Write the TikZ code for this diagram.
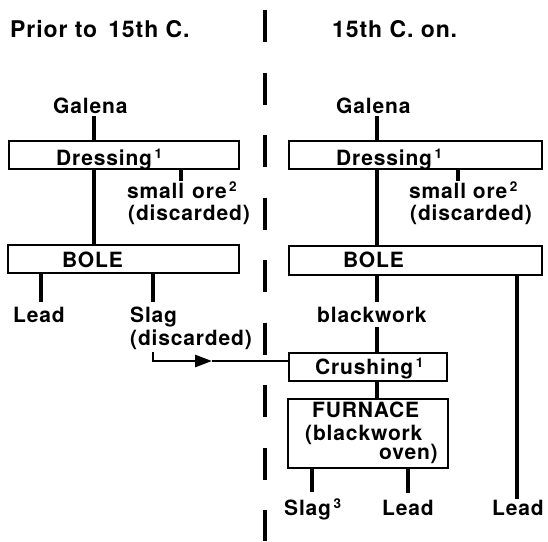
\documentclass[tikz,border=0pt]{standalone}
\usepackage{fontspec}
\newfontfamily\hv[LetterSpace=4]{TeX Gyre Heros}
\usetikzlibrary{arrows.meta}
\newcommand{\supnum}[1]{\hspace{2.5pt}\raisebox{6.5pt}{\fontsize{13.5}{13.5}\selectfont #1}}
\begin{document}
\begin{tikzpicture}[x=1pt,y=-1pt,
  lbl/.style={anchor=base west,inner sep=0pt,font=\hv\bfseries\fontsize{21}{23}\selectfont},
  head/.style={anchor=base west,inner sep=0pt,font=\hv\bfseries\fontsize{23}{25}\selectfont},
  boxshape/.style={draw,line width=1.3pt,inner sep=0pt},
  conn/.style={line width=4pt},
  arrowline/.style={line width=2.8pt,-{Triangle[length=17pt,width=12pt]}},
  plainline/.style={line width=2.8pt},
  divider/.style={line width=4pt,dash pattern=on 32pt off 30.5pt}]
\fill[white] (0,0) rectangle (548,541);
\useasboundingbox (0,0) rectangle (548,541);

% divider
\coordinate (divtop) at (265,10);
\coordinate (divbot) at (265,541);
\draw[divider] (divtop) -- (divbot);

% headings
\node[head] (hL) at (10,37) {Prior to\hspace{11pt}15th C.};
\node[head] (hR) at (332,37) {15th C. on.};

% boxes
\node[boxshape,minimum width=230pt,minimum height=28pt] (dressL) at (124,155) {};
\node[boxshape,minimum width=231pt,minimum height=28pt] (boleL) at (123.5,259) {};
\node[boxshape,minimum width=253pt,minimum height=28pt] (dressR) at (415.5,155) {};
\node[boxshape,minimum width=253pt,minimum height=29pt] (boleR) at (415.5,260.5) {};
\node[boxshape,minimum width=158pt,minimum height=28pt] (crush) at (368,367) {};
\node[boxshape,minimum width=160pt,minimum height=69pt] (furn) at (368,433.5) {};

% left texts
\node[lbl] (galL) at (53,113) {Galena};
\node[lbl] (dressLt) at (56,165) {Dressing\supnum{1}};
\node[lbl] (smallL) at (127,198) {small\hspace{8pt}ore\supnum{2}};
\node[lbl] (discL) at (128,220) {(discarded)};
\node[lbl] (boleLt) at (62,267) {BOLE};
\node[lbl] (leadL) at (13,322) {Lead};
\node[lbl] (slagL) at (130,322) {Slag};
\node[lbl] (slagd) at (130,345) {(discarded)};

% right texts
\node[lbl] (galR) at (336,113) {Galena};
\node[lbl] (dressRt) at (336,165) {Dressing\supnum{1}};
\node[lbl] (smallR) at (409,198) {small ore\supnum{2}};
\node[lbl] (discR) at (410,220) {(discarded)};
\node[lbl] (boleRt) at (343,267) {BOLE};
\node[lbl] (bw) at (317,322) {blackwork};
\node[lbl] (crusht) at (315,374) {Crushing\supnum{1}};
\node[lbl] (furnt1) at (312,417) {FURNACE};
\node[lbl] (furnt2) at (305,440) {(blackwork};
\node[lbl] (furnt3) at (379,459) {oven)};
\node[lbl] (slag3) at (284,515) {Slag\supnum{3}};
\node[lbl] (leadM) at (382,515) {Lead};
\node[lbl] (leadR) at (492,515) {Lead};

% x positions of connectors
\coordinate (cL) at (93.5,0);
\coordinate (cR) at (376.5,0);
\coordinate (tL) at (181,0);
\coordinate (tR) at (458,0);
\coordinate (leadLx) at (41,0);
\coordinate (slagLx) at (153,0);
\coordinate (slag3x) at (312,0);
\coordinate (leadMx) at (408,0);
\coordinate (leadRx) at (516.5,0);
\coordinate (tip) at (212,361);

% left connectors
\draw[conn,shorten <=3pt] (galL.south -| cL) -- (dressL.north -| cL);
\draw[conn] (dressL.south -| cL) -- (boleL.north -| cL);
\draw[conn] (dressL.south -| tL) -- ++(0,11);
\draw[conn,shorten >=4pt] (boleL.south -| leadLx) -- (leadL.north -| leadLx);
\draw[conn,shorten >=4pt] (boleL.south -| slagLx) -- (slagL.north -| slagLx);
\draw[arrowline,shorten <=3pt] (slagd.south -| slagLx) |- (tip);
\draw[plainline] (tip) -- (crush.west |- tip);

% right connectors
\draw[conn,shorten <=3pt] (galR.south -| cR) -- (dressR.north -| cR);
\draw[conn] (dressR.south -| cR) -- (boleR.north -| cR);
\draw[conn] (dressR.south -| tR) -- ++(0,11);
\draw[conn,shorten >=4pt] (boleR.south -| cR) -- (bw.north -| cR);
\draw[conn,shorten <=5pt] (bw.south -| cR) -- (crush.north -| cR);
\draw[conn] (crush.south -| cR) -- (furn.north -| cR);
\draw[conn,shorten >=7pt] (furn.south -| slag3x) -- (slag3.north -| slag3x);
\draw[conn,shorten >=7pt] (furn.south -| leadMx) -- (leadM.north -| leadMx);
\draw[conn,shorten >=1pt] (boleR.south -| leadRx) -- (leadR.north -| leadRx);
\end{tikzpicture}
\end{document}
